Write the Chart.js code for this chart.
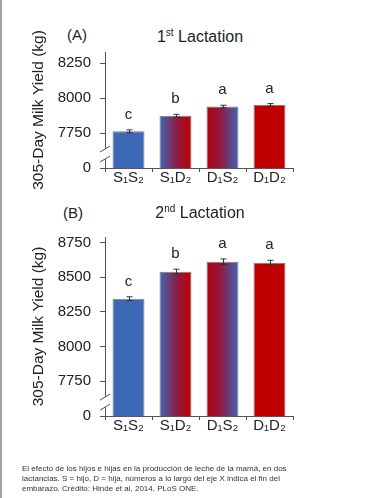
<!DOCTYPE html>
<html lang="es">
<head>
<meta charset="UTF-8">
<title>Producción de leche por lactancia</title>
<script src="https://cdn.jsdelivr.net/npm/chart.js@4.4.0/dist/chart.umd.min.js"></script>
<style>
  body { margin: 0; width: 373px; height: 498px; background: #fff; position: relative; overflow: hidden;
         font-family: "Liberation Sans", Arial, sans-serif; color: #222; }
  .edge { position: absolute; left: 0; top: 0; width: 2px; height: 498px; background: #a2a2a2; }
  .box { position: absolute; left: 0; width: 320px; }
  .tag { position: absolute; font-size: 15px; line-height: 18px; }
  .title { position: absolute; width: 200px; text-align: center; font-size: 16px; line-height: 18px; }
  .title sup { font-size: 10px; line-height: 0; vertical-align: 6px; }
  .caption { position: absolute; left: 22px; top: 464px; font-size: 8px; line-height: 10px; color: #333; white-space: nowrap; }
</style>
</head>
<body>
<div class="edge"></div>

<div class="tag" style="left:67px; top:26px;">(A)</div>
<div class="title" style="left:100px; top:28px;">1<sup>st</sup> Lactation</div>
<div class="box" style="top:20px; height:178px;"><canvas id="chartA"></canvas></div>

<div class="tag" style="left:63px; top:204px;">(B)</div>
<div class="title" style="left:100px; top:204px;">2<sup>nd</sup> Lactation</div>
<div class="box" style="top:195px; height:251px;"><canvas id="chartB"></canvas></div>

<div class="caption">El efecto de los hijos e hijas en la producción de leche de la mamá, en dos<br>lactancias. S = hijo, D = hija, números a lo largo del eje X indica el fin del<br>embarazo. Crédito: Hinde et al, 2014, PLoS ONE.</div>

<script>
// data
const groups = ['S₁S₂', 'S₁D₂', 'D₁S₂', 'D₁D₂'];

const yieldA = [7763, 7874, 7940, 7952];
const errA = [10, 10, 9, 9];
const lettersA = ['c', 'b', 'a', 'a'];
const tickValuesA = [7500, 7750, 8000, 8250];
const tickLabelsA = ['0', '7750', '8000', '8250'];

const yieldB = [8345, 8540, 8612, 8604];
const errB = [14, 18, 20, 18];
const lettersB = ['c', 'b', 'a', 'a'];
const tickValuesB = [7500, 7750, 8000, 8250, 8500, 8750];
const tickLabelsB = ['0', '7750', '8000', '8250', '8500', '8750'];

const BLUE = '#3d68b6';
const RED = '#c00000';
const INK = '#222';
const AXIS = '#555';
const BAR_PCT = 0.68;
const FONT = '"Liberation Sans", Arial, sans-serif';

// each bar: solid blue, blue->red, red->blue, solid red
function barFill(ctx) {
    const chart = ctx.chart;
    const xs = chart.scales.x;
    if (!xs) return BLUE;
    const i = ctx.dataIndex;
    if (i === 0) return BLUE;
    if (i === 3) return RED;
    const cx = xs.getPixelForValue(i);
    const half = xs.width / groups.length * BAR_PCT / 2;
    const g = chart.ctx.createLinearGradient(cx - half, 0, cx + half, 0);
    if (i === 1) {
        g.addColorStop(0, BLUE);
        g.addColorStop(0.55, '#8e1a42');
        g.addColorStop(1, RED);
    } else {
        g.addColorStop(0, '#b30010');
        g.addColorStop(0.45, '#8e1a42');
        g.addColorStop(1, BLUE);
    }
    return g;
}

// error bars, significance letters and the axis break
const barMarks = {
    id: 'barMarks',
    afterDatasetsDraw(chart, args, opts) {
        const ctx = chart.ctx;
        const y = chart.scales.y;
        const vals = chart.data.datasets[0].data;
        const meta = chart.getDatasetMeta(0);
        ctx.save();
        ctx.strokeStyle = '#333';
        ctx.lineWidth = 1;
        ctx.fillStyle = INK;
        ctx.font = '15px ' + FONT;
        ctx.textAlign = 'center';
        ctx.textBaseline = 'alphabetic';
        meta.data.forEach((bar, i) => {
            const top = y.getPixelForValue(vals[i] + opts.errors[i]);
            const bot = y.getPixelForValue(vals[i] - opts.errors[i]);
            const x = Math.round(bar.x) + 0.5;
            ctx.beginPath();
            ctx.moveTo(x, top); ctx.lineTo(x, bot);
            ctx.moveTo(x - 3, top); ctx.lineTo(x + 3, top);
            ctx.moveTo(x - 3, bot); ctx.lineTo(x + 3, bot);
            ctx.stroke();
            ctx.fillText(opts.letters[i], bar.x, top - 11);
        });
        // axis break
        const ax = y.right;
        const yb = y.getPixelForValue(opts.breakAt);
        ctx.fillStyle = '#fff';
        ctx.fillRect(ax - 2, yb - 5, 4, 10);
        ctx.strokeStyle = AXIS;
        ctx.beginPath();
        [-5, 5].forEach(d => {
            ctx.moveTo(ax - 5, yb + d + 3);
            ctx.lineTo(ax + 5, yb + d - 3);
        });
        ctx.stroke();
        ctx.restore();
    }
};

function makeChart(id, values, errors, letters, tickValues, tickLabels, max, padTop) {
    return new Chart(document.getElementById(id), {
        type: 'bar',
        data: {
            labels: groups,
            datasets: [{
                data: values,
                backgroundColor: barFill,
                borderColor: 'rgba(70,70,70,0.7)',
                borderWidth: 1,
                barPercentage: BAR_PCT,
                categoryPercentage: 1
            }]
        },
        options: {
            responsive: true,
            maintainAspectRatio: false,
            animation: false,
            layout: { padding: { top: padTop, right: 27, left: 25, bottom: 0 } },
            plugins: {
                legend: { display: false },
                tooltip: { enabled: false },
                barMarks: { errors: errors, letters: letters, breakAt: 7600 }
            },
            scales: {
                x: {
                    afterFit: s => { s.height = 30; },
                    grid: { offset: true, drawOnChartArea: false, tickLength: 4, color: AXIS },
                    border: { color: AXIS },
                    ticks: { color: INK, padding: -3, font: { family: FONT, size: 15 } }
                },
                y: {
                    min: 7500,
                    max: max,
                    afterFit: s => { s.width = 80; },
                    afterBuildTicks: s => { s.ticks = tickValues.map(v => ({ value: v })); },
                    grid: { drawOnChartArea: false, tickLength: 5, color: AXIS },
                    border: { color: AXIS },
                    ticks: {
                        color: INK,
                        padding: 9,
                        font: { family: FONT, size: 15 },
                        callback: (v, i) => tickLabels[i]
                    },
                    title: {
                        display: true,
                        text: '305-Day Milk Yield (kg)',
                        color: INK,
                        padding: { top: 4, bottom: 0 },
                        font: { family: FONT, size: 15.5 }
                    }
                }
            }
        },
        plugins: [barMarks]
    });
}

makeChart('chartA', yieldA, errA, lettersA, tickValuesA, tickLabelsA, 8330, 32);
makeChart('chartB', yieldB, errB, lettersB, tickValuesB, tickLabelsB, 8790, 42);
</script>
</body>
</html>
